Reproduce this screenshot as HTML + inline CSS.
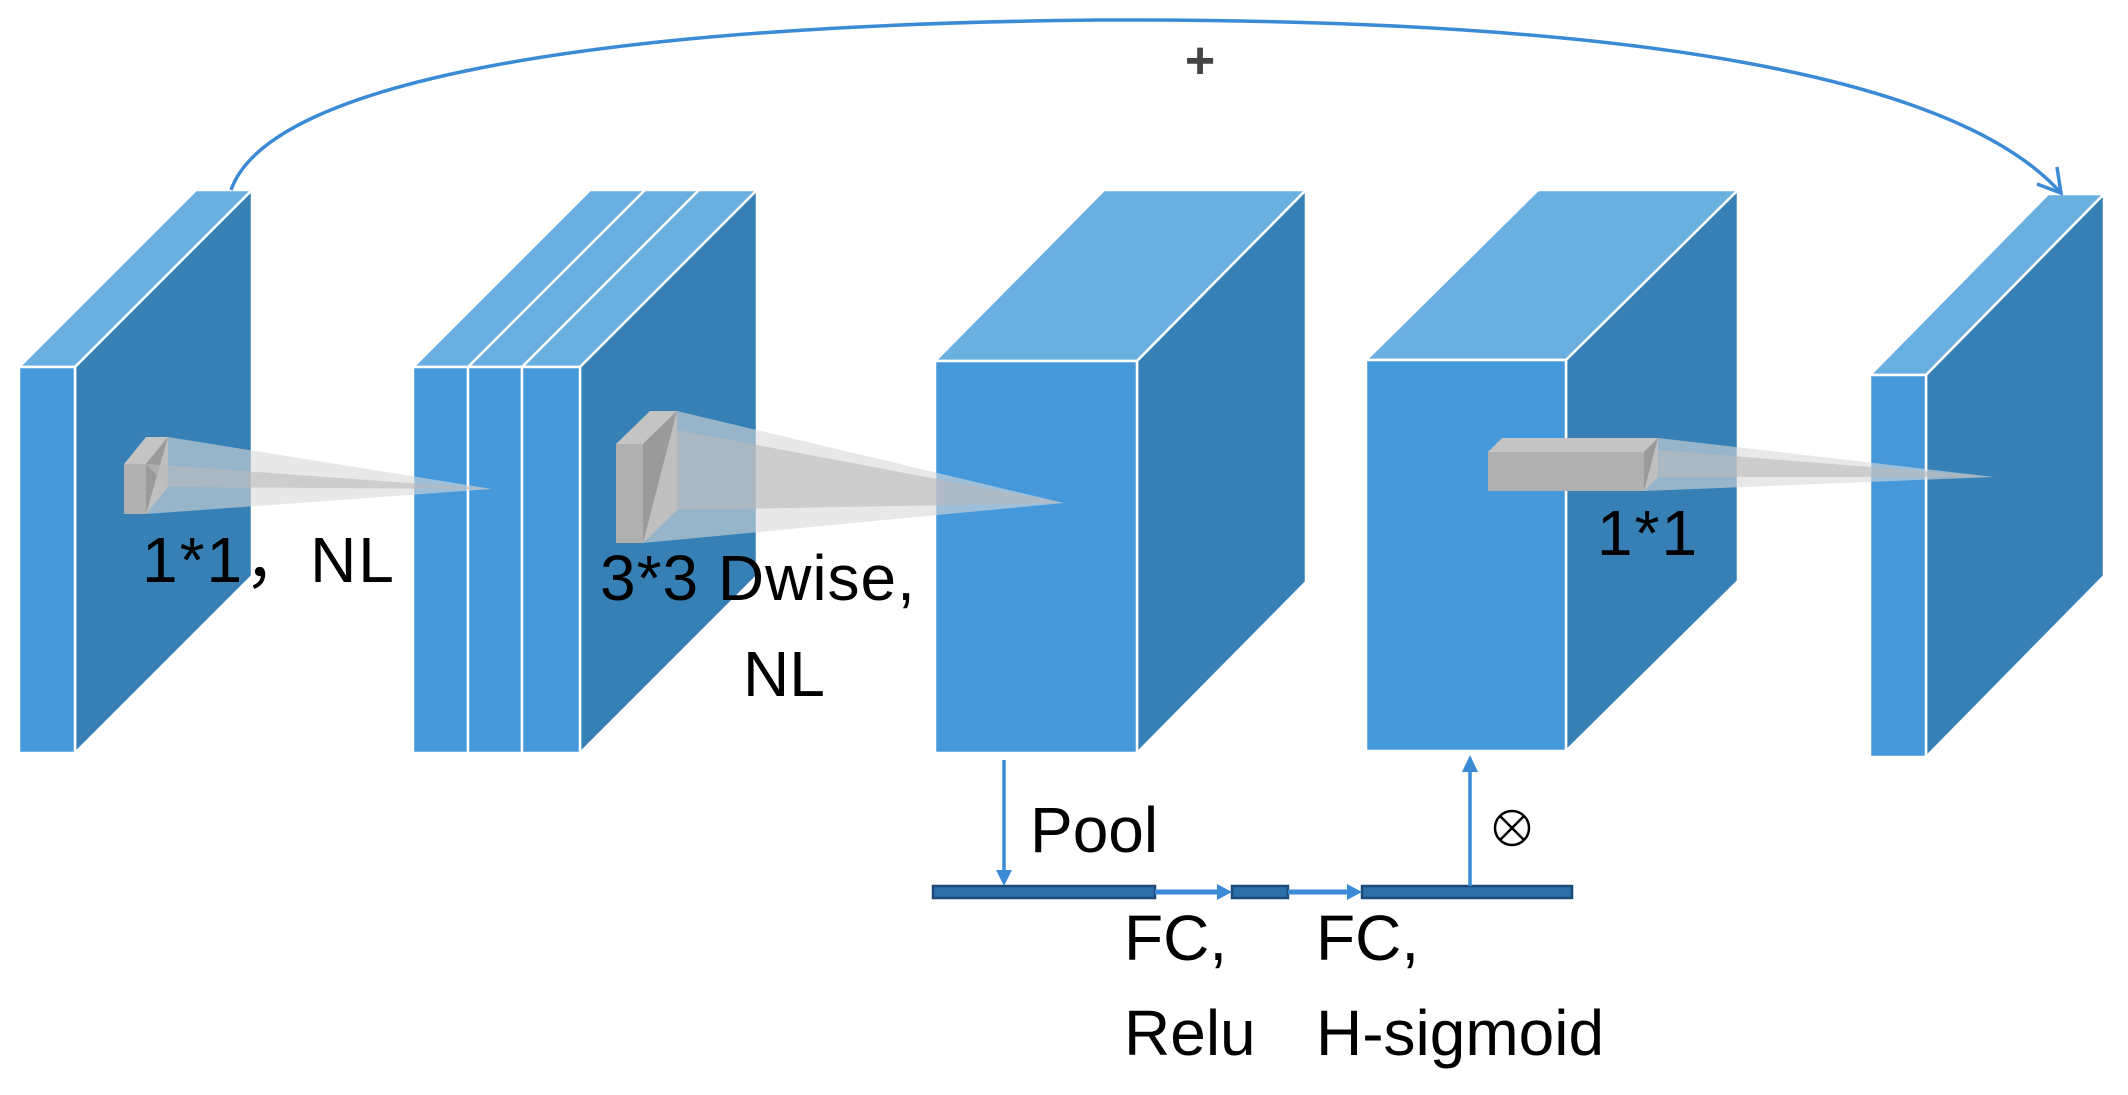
<!DOCTYPE html>
<html><head><meta charset="utf-8"><style>
html,body{margin:0;padding:0;background:#fff;}
svg{display:block}
text{font-family:"Liberation Sans",sans-serif;fill:#000}
</style></head><body>
<svg width="2128" height="1095" viewBox="0 0 2128 1095" xmlns="http://www.w3.org/2000/svg">
<g stroke="#fff" stroke-width="2.5" stroke-linejoin="round">
<polygon points="19,367 75,367 252,190 196,190" fill="#69afe0"/>
<polygon points="75,367 252,190 252,576 75,753" fill="#3680b5"/>
<rect x="19" y="367" width="56" height="386" fill="#4599db"/>
<polygon points="413,367 580,367 757,190 590,190" fill="#69afe0"/>
<line x1="468" y1="367" x2="645" y2="190"/>
<line x1="522" y1="367" x2="699" y2="190"/>
<polygon points="580,367 757,190 757,576 580,753" fill="#3680b5"/>
<rect x="413" y="367" width="55" height="386" fill="#4599db"/>
<rect x="468" y="367" width="54" height="386" fill="#4599db"/>
<rect x="522" y="367" width="58" height="386" fill="#4599db"/>
<polygon points="935,361 1137,361 1306,190 1104,190" fill="#69afe0"/>
<polygon points="1137,361 1306,190 1306,582 1137,753" fill="#3680b5"/>
<rect x="935" y="361" width="202" height="392" fill="#4599db"/>
<polygon points="1366,360 1566,360 1738,190 1538,190" fill="#69afe0"/>
<polygon points="1566,360 1738,190 1738,581 1566,751" fill="#3680b5"/>
<rect x="1366" y="360" width="200" height="391" fill="#4599db"/>
<polygon points="1870,375 1926,375 2104,194 2048,194" fill="#69afe0"/>
<polygon points="1926,375 2104,194 2104,576 1926,757" fill="#3680b5"/>
<rect x="1870" y="375" width="56" height="382" fill="#4599db"/>
</g>
<g>
<polygon points="124,464 146,464 168,437 146,437" fill="#c4c4c4"/>
<polygon points="146,464 168,437 168,487 146,514" fill="#9a9a9a"/>
<rect x="124" y="464" width="22" height="50" fill="#b0b0b0"/>
<polygon points="168,437 146,514 492,489" fill="#d8d8d8" opacity="0.6"/>
<polygon points="146,464 168,487 492,489" fill="#bbb" opacity="0.6"/>

<polygon points="616,444 643,444 677,411 650,411" fill="#c4c4c4"/>
<polygon points="643,444 677,411 677,510 643,543" fill="#9a9a9a"/>
<rect x="616" y="444" width="27" height="99" fill="#b0b0b0"/>
<polygon points="677,411 643,543 1064,503" fill="#d8d8d8" opacity="0.6"/>
<polygon points="677,430 677,510 1064,503" fill="#bbb" opacity="0.6"/>

<polygon points="1488,452 1644,452 1658,438 1502,438" fill="#c4c4c4"/>
<polygon points="1644,452 1658,438 1658,477 1644,491" fill="#9a9a9a"/>
<rect x="1488" y="452" width="156" height="39" fill="#b0b0b0"/>
<polygon points="1658,438 1644,491 1994,477" fill="#d8d8d8" opacity="0.6"/>
<polygon points="1658,450 1658,477 1994,477" fill="#bbb" opacity="0.6"/>
</g>
<path d="M231,190 C270,80 600,25 1100,20 C1650,18 1960,80 2061,193" fill="none" stroke="#3a8ad6" stroke-width="3.5"/>
<polyline points="2057,167 2061,193 2037,184" fill="none" stroke="#3a8ad6" stroke-width="3.5"/>
<text x="1200" y="78" font-size="52" font-weight="bold" style="fill:#444" text-anchor="middle">+</text>
<text x="142" y="582" font-size="64" letter-spacing="2">1*1，NL</text>
<text x="600" y="600" font-size="64" letter-spacing="1">3*3 Dwise,</text>
<text x="743" y="696" font-size="64">NL</text>
<text x="1597" y="555" font-size="64" letter-spacing="2">1*1</text>
<line x1="1004" y1="760" x2="1004" y2="878" stroke="#3a8ad6" stroke-width="3.5"/>
<polygon points="996,870 1012,870 1004,886" fill="#3a8ad6"/>
<rect x="933" y="886" width="222" height="12" fill="#2f6fa8" stroke="#1c4a78" stroke-width="2.5"/>
<rect x="1232" y="886" width="56" height="12" fill="#2f6fa8" stroke="#1c4a78" stroke-width="2.5"/>
<rect x="1362" y="886" width="210" height="12" fill="#2f6fa8" stroke="#1c4a78" stroke-width="2.5"/>
<line x1="1155" y1="892" x2="1220" y2="892" stroke="#3a8ad6" stroke-width="5"/>
<polygon points="1217,884 1232,892 1217,900" fill="#3a8ad6"/>
<line x1="1288" y1="892" x2="1350" y2="892" stroke="#3a8ad6" stroke-width="5"/>
<polygon points="1347,884 1362,892 1347,900" fill="#3a8ad6"/>
<line x1="1470" y1="886" x2="1470" y2="768" stroke="#3a8ad6" stroke-width="3.5"/>
<polygon points="1462,772 1478,772 1470,755" fill="#3a8ad6"/>
<text x="1030" y="852" font-size="64">Pool</text>
<circle cx="1512" cy="828" r="17" fill="none" stroke="#000" stroke-width="2.5"/>
<line x1="1500" y1="816" x2="1524" y2="840" stroke="#000" stroke-width="2.5"/>
<line x1="1524" y1="816" x2="1500" y2="840" stroke="#000" stroke-width="2.5"/>
<text x="1124" y="960" font-size="64">FC,</text>
<text x="1124" y="1055" font-size="64">Relu</text>
<text x="1316" y="960" font-size="64">FC,</text>
<text x="1316" y="1055" font-size="64">H-sigmoid</text>
</svg>
</body></html>
